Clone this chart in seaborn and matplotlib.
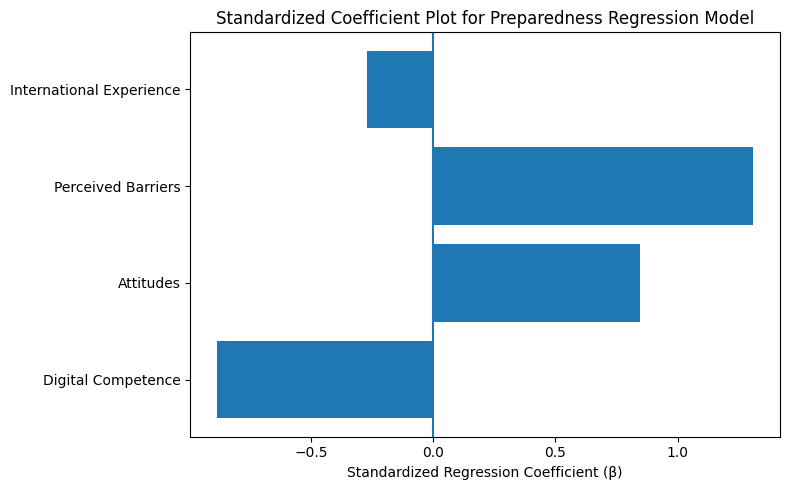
#!/usr/bin/env python3
import pandas as pd
import seaborn as sns
from matplotlib import pyplot as plt

predictors = ["Digital Competence", "Attitudes", "Perceived Barriers", "International Experience"]
betas = [-0.886, 0.846, 1.310, -0.270]


def main():
    df = pd.DataFrame({"predictor": predictors, "beta": betas})

    fig, ax = plt.subplots(figsize=(7.9, 4.9), dpi=100)
    # matplotlib barh order: first predictor at the bottom
    order = predictors[::-1]
    sns.barplot(data=df, x="beta", y="predictor", order=order, orient="h",
                color="#1f77b4", saturation=1, errorbar=None, width=0.8, ax=ax)
    n = len(predictors)
    ax.set_ylim(n - 1 + 0.59, -0.59)
    ax.axvline(0)

    ax.set_xlabel("Standardized Regression Coefficient (β)")
    ax.set_ylabel("")
    ax.set_title("Standardized Coefficient Plot for Preparedness Regression Model")
    fig.tight_layout(pad=0.72)
    fig.savefig("out.png")
    plt.close(fig)


if __name__ == "__main__":
    main()
